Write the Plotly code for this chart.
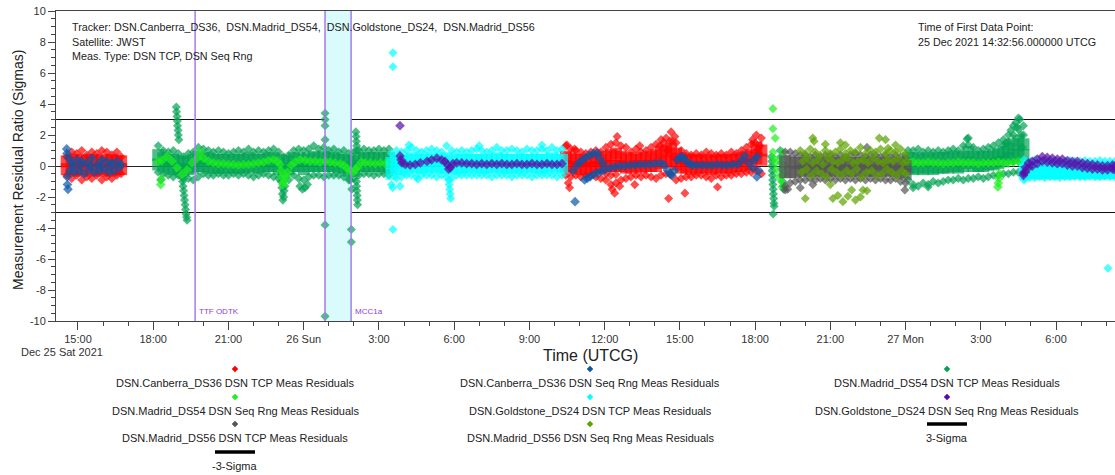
import pandas as pd
import plotly.graph_objects as go

W, H = 1115, 475
T0 = pd.Timestamp("2021-12-25 00:00:00")   # time values below are hours since this instant

# ---------------- data (hours since 25 Dec 2021 00:00 UTCG, residual ratio in sigmas) ----------------
# DSN.Canberra_DS36 DSN TCP
RED_A_T = [14.55, 14.75, 14.95, 15.15, 15.35, 15.55, 15.75, 15.95, 16.15, 16.35, 16.55, 16.72]
RED_A_HI = [0.6, 0.9, 0.8, 1.0, 0.7, 0.9, 0.8, 1.0, 0.9, 0.7, 0.9, 0.6]
RED_A_M1 = [0.3, 0.4, 0.3, 0.4, 0.3, 0.4, 0.3, 0.4, 0.3, 0.4, 0.3, 0.3]
RED_A_M2 = [-0.2, -0.3, -0.2, -0.3, -0.2, -0.3, -0.2, -0.3, -0.2, -0.3, -0.2, -0.2]
RED_A_LO = [-0.6, -0.8, -0.6, -0.9, -0.7, -0.8, -0.6, -0.9, -0.7, -0.8, -0.6, -0.5]
RED_B_T = [34.45, 34.65, 34.85, 35.05, 35.25, 35.45, 35.65, 35.85, 36.05, 36.25, 36.45, 36.65, 36.85, 37.05,
           37.25, 37.45, 37.65, 37.85, 38.05, 38.25, 38.45, 38.65, 38.85, 39.05, 39.25, 39.45, 39.65, 39.85,
           40.05, 40.25, 40.45, 40.65, 40.85, 41.05, 41.25, 41.45, 41.65, 41.85, 42.05, 42.25]
RED_B_HI = [1.3, 1.1, 1.0, 0.9, 0.8, 0.9, 1.0, 0.9, 1.2, 1.4, 1.5, 1.3, 1.2, 0.9, 1.1, 0.9, 1.0, 1.2, 1.4, 1.7,
            1.8, 2.2, 1.5, 1.0, 0.8, 0.7, 0.8, 0.7, 0.9, 0.8, 0.7, 0.8, 0.7, 0.9, 0.8, 1.0, 1.2, 1.4, 2.0, 1.8]
RED_B_M1 = [0.6, 0.5, 0.4, 0.4, 0.3, 0.4, 0.5, 0.4, 0.6, 0.7, 0.8, 0.6, 0.5, 0.4, 0.5, 0.4, 0.5, 0.6, 0.7, 0.9,
            1.0, 1.1, 0.8, 0.5, 0.4, 0.3, 0.4, 0.3, 0.4, 0.3, 0.3, 0.4, 0.3, 0.4, 0.4, 0.5, 0.6, 0.7, 1.2, 1.0]
RED_B_M2 = [0.0, -0.1, -0.1, -0.2, -0.2, -0.1, -0.1, -0.1, 0.0, 0.0, 0.0, 0.0, -0.1, -0.1, 0.0, -0.1, 0.0, 0.0,
            0.0, 0.2, 0.3, 0.3, 0.1, -0.1, -0.1, -0.2, -0.1, -0.1, -0.1, -0.2, -0.1, -0.1, -0.1, -0.1, 0.0, 0.0,
            0.1, 0.1, 0.5, 0.4]
RED_B_LO = [-0.6, -0.7, -0.6, -0.7, -0.6, -0.6, -0.7, -0.8, -0.9, -1.2, -1.1, -0.9, -0.8, -0.7, -0.6, -0.7, -0.6,
            -0.7, -0.8, -0.6, -0.5, -0.6, -0.9, -0.8, -0.7, -0.7, -0.6, -0.6, -0.7, -0.8, -0.6, -0.7, -0.6, -0.6,
            -0.5, -0.5, -0.4, -0.4, -0.3, -0.5]
RED_B_EX_T = [34.5, 34.55, 34.6, 34.8, 36.05, 36.25, 36.3, 36.4, 36.45, 36.5, 36.6, 37.2, 37.4, 38.2, 38.35,
              38.55, 38.6, 38.7, 38.8, 39.2, 40.5, 41.9, 42.0, 42.1, 42.2, 42.15, 38.5, 38.75]
RED_B_EX_V = [1.35, -1.1, -1.4, 1.1, -0.5, -0.6, -1.5, -1.75, -0.55, 1.9, -1.3, -1.2, 1.3, 1.3, 1.5,
              -2.1, 1.6, 1.6, 1.9, -1.75, -1.35, 1.7, 1.5, 1.1, 1.3, 0.8, 1.0, 0.6]

# DSN.Canberra_DS36 DSN Seq Rng
BLUE_A_T = [14.55, 14.56, 14.57, 14.58, 14.6, 14.63, 14.67, 14.75, 14.85, 14.95, 15.05, 15.15, 15.25, 15.35,
            15.45, 15.55, 15.65, 15.75, 15.85, 15.95, 16.05, 16.15, 16.25, 16.35, 16.45, 16.55, 16.65, 16.72,
            14.8, 15.1, 15.5, 15.9, 16.3]
BLUE_A_V = [1.1, 0.8, -0.7, -1.2, -1.5, 0.5, -0.3, 0.2, -0.4, 0.4, -0.3, 0.3, -0.5, 0.2, -0.2, 0.5, -0.4, 0.1,
            -0.3, 0.4, -0.2, 0.3, -0.4, 0.2, -0.3, 0.3, -0.1, 0.1, 0.0, 0.0, 0.0, 0.0, 0.0]
BLUE_B_T = [34.74, 34.82, 34.9, 35.0, 35.13, 35.25, 35.4, 35.55, 35.7, 35.8, 35.94, 35.2, 35.3, 35.42, 35.55,
            35.7, 35.85, 36.0, 36.2, 36.4, 36.6, 36.8, 37.0, 37.2, 37.4, 37.6, 37.8, 38.0, 38.2, 38.35, 38.5,
            38.6, 38.68, 38.78, 38.9, 39.0, 39.08, 39.18, 39.28, 39.4, 39.52, 39.7, 39.9, 40.1, 40.3, 40.5,
            40.7, 40.9, 41.1, 41.3, 41.47, 41.6, 41.75, 41.9, 41.98, 42.07, 42.07, 42.15]
BLUE_B_V = [-0.3, -2.3, 0.05, 0.25, 0.4, 0.55, 0.7, 0.8, 0.85, 0.5, 0.15, -0.9, -0.8, -0.7, -0.55, -0.45,
            -0.35, -0.25, -0.13, -0.05, 0.0, 0.0, 0.05, 0.05, 0.1, 0.1, 0.1, 0.15, 0.2, 0.1, -0.26, -0.5, -0.6,
            -0.3, 0.4, 0.55, 0.6, 0.45, 0.26, 0.12, 0.06, 0.05, 0.05, 0.05, 0.05, 0.1, 0.05, 0.05, 0.1, 0.1,
            0.4, 0.65, 0.2, -0.13, 0.4, 0.6, -0.7, -0.3]

# DSN.Madrid_DS54 DSN TCP
G1_T = [18.2, 18.4, 18.6, 18.8, 19.0, 19.2, 19.4, 19.6, 19.8, 20.0, 20.2, 20.4, 20.6, 20.8, 21.0, 21.2, 21.4,
        21.6, 21.8, 22.0, 22.2, 22.4, 22.6, 22.8, 23.0, 23.2, 23.4, 23.6, 23.8, 24.0, 24.2, 24.4, 24.6, 24.8,
        25.0, 25.2, 25.4, 25.6, 25.8, 26.0, 26.2, 26.4, 26.6, 26.8, 27.0, 27.2, 27.4]
G1_HI = [1.3, 1.0, 0.9, 1.0, 0.8, 0.6, 0.8, 0.9, 1.2, 1.1, 1.0, 0.9, 1.0, 0.9, 0.8, 0.9, 1.0, 0.9, 1.1, 0.9,
         1.0, 0.9, 1.0, 1.1, 0.9, 0.6, 0.7, 1.0, 1.1, 1.0, 1.1, 1.3, 1.1, 1.2, 1.0, 1.1, 0.9, 1.0, 0.8, 0.9,
         1.0, 1.1, 1.0, 1.0, 1.1, 1.0, 1.1]
G1_M1 = [0.7, 0.5, 0.4, 0.4, 0.3, 0.2, 0.3, 0.4, 0.6, 0.5, 0.5, 0.4, 0.4, 0.4, 0.3, 0.4, 0.4, 0.4, 0.5, 0.4,
         0.4, 0.4, 0.5, 0.5, 0.4, 0.1, 0.3, 0.5, 0.5, 0.4, 0.5, 0.6, 0.5, 0.6, 0.5, 0.5, 0.4, 0.4, 0.3, 0.3,
         0.5, 0.5, 0.5, 0.5, 0.5, 0.5, 0.5]
G1_M2 = [0.1, 0.0, -0.1, -0.2, -0.2, -0.3, -0.2, -0.1, 0.0, 0.0, -0.1, -0.1, -0.1, -0.1, -0.1, -0.1, -0.1,
         -0.1, 0.0, -0.1, -0.1, 0.0, 0.0, 0.0, -0.2, -0.4, -0.2, 0.0, 0.0, -0.2, 0.0, 0.0, 0.0, 0.0, 0.0, 0.0,
         -0.1, -0.1, -0.3, -0.3, 0.0, 0.0, 0.0, 0.0, 0.0, 0.0, -0.1]
G1_LO = [-0.4, -0.5, -0.6, -0.7, -0.6, -0.8, -0.8, -0.9, -0.7, -0.5, -0.6, -0.6, -0.5, -0.6, -0.6, -0.5, -0.6,
         -0.5, -0.6, -0.7, -0.6, -0.5, -0.6, -0.7, -0.8, -0.9, -0.9, -0.6, -0.8, -0.9, -0.7, -0.6, -0.6, -0.7,
         -0.6, -0.6, -0.6, -0.7, -0.9, -0.8, -0.6, -0.5, -0.5, -0.6, -0.5, -0.5, -0.6]
G1_EX_T = [18.92, 18.93, 18.95, 18.96, 18.97, 18.99, 19.0, 19.02, 19.15, 19.17, 19.19, 19.21, 19.23, 19.25,
           19.27, 19.29, 19.31, 19.33, 19.35, 18.3, 23.1, 23.13, 23.15, 23.17, 23.2, 23.22, 23.25, 23.85, 23.95,
           24.05, 24.15, 24.85, 24.85, 24.85, 24.85, 24.85, 24.85, 25.9, 25.9, 26.08, 26.09, 26.1, 26.11, 26.12,
           26.1, 26.11, 26.12, 26.13, 26.14, 26.15, 25.85, 25.92]
G1_EX_V = [3.8, 3.5, 3.2, 2.9, 2.6, 2.3, 2.0, 1.7, -0.7, -1.0, -1.3, -1.6, -1.9, -2.2, -2.5, -2.8, -3.1, -3.3,
           -3.5, -0.9, -1.0, -1.4, -1.8, -2.2, -2.0, -1.6, -1.3, -1.3, -1.5, -1.4, -1.2, 3.4, 3.0, 2.6, 1.7,
           -3.8, -9.7, -4.1, -4.9, 2.2, 1.9, 1.6, 1.3, 1.0, -1.0, -1.3, -1.6, -1.9, -2.2, -2.5, -0.9, -1.5]
G2_T = [42.65, 42.66, 42.67, 42.68, 42.69, 42.7, 42.71, 42.72, 42.73, 42.74, 42.75, 42.76, 42.72, 43.0, 43.02,
        43.04, 43.06, 43.08, 43.1, 43.12, 43.14]
G2_V = [0.6, 0.3, 0.0, -0.3, -0.6, -0.9, -1.2, -1.5, -1.8, -2.1, -2.4, -2.6, -3.1, 1.0, 0.6, 0.2, -0.2, -0.6,
        -1.0, -1.3, -1.5]
G3_T = [48.1, 48.3, 48.5, 48.7, 48.9, 49.1, 49.3, 49.5, 49.7, 49.9, 50.1, 50.3, 50.5, 50.7, 50.9, 51.1, 51.3,
        51.5, 51.7, 51.9, 52.1, 52.3, 52.5, 52.7]
G3_HI = [1.0, 1.0, 1.1, 0.9, 1.0, 0.9, 1.0, 0.9, 1.0, 1.1, 1.0, 1.3, 1.8, 1.2, 1.0, 1.1, 1.2, 1.3, 1.5, 1.7,
         2.0, 2.6, 3.1, 2.6]
G3_M1 = [0.5, 0.5, 0.5, 0.4, 0.5, 0.4, 0.5, 0.5, 0.5, 0.6, 0.5, 0.6, 0.9, 0.6, 0.5, 0.6, 0.6, 0.7, 0.8, 0.9,
         1.1, 1.4, 1.6, 1.4]
G3_M2 = [-0.1, -0.2, -0.1, -0.2, -0.1, -0.2, -0.1, -0.1, -0.1, 0.0, -0.1, 0.0, 0.2, 0.0, 0.0, 0.0, 0.1, 0.1,
         0.2, 0.3, 0.5, 0.7, 0.8, 0.7]
G3_LO = [-0.9, -1.2, -1.3, -1.1, -1.2, -1.0, -1.1, -1.0, -0.9, -0.9, -0.8, -0.9, -0.8, -0.8, -0.7, -0.8, -0.7,
         -0.6, -0.6, -0.5, -0.5, -0.4, -0.4, -0.3]
G3_EX_T = [51.9, 52.0, 52.1, 52.2, 52.3, 52.4, 52.45, 52.5, 52.55, 52.6, 52.65, 52.7, 50.45, 50.5, 52.3, 52.5,
           48.3, 48.9]
G3_EX_V = [1.3, 1.5, 1.55, 2.3, 2.0, 2.8, 2.5, 2.35, 3.0, 2.0, 1.2, 2.0, 1.75, 1.35, 0.3, 0.3, -1.4, -1.35]

# DSN.Madrid_DS54 DSN Seq Rng
L1_T = [18.2, 18.35, 18.55, 18.75, 18.95, 19.15, 19.35, 19.55, 19.75, 19.87, 20.0, 20.2, 20.4, 20.6, 20.8,
        21.0, 21.2, 21.4, 21.6, 21.8, 22.0, 22.2, 22.4, 22.6, 22.8, 22.95, 23.05, 23.1, 23.13, 23.17, 23.22,
        23.28, 23.35, 23.5, 23.65, 23.85, 24.05, 24.25, 24.45, 24.65, 24.85, 25.05, 25.25, 25.45, 25.6, 25.73,
        25.85, 25.97, 26.07, 26.16, 26.3, 26.45, 26.65, 26.85, 27.05, 27.25, 27.4, 18.3, 18.32]
L1_V = [0.3, 0.35, 0.6, 0.3, -0.1, -0.55, -0.25, 0.2, 0.5, 0.9, 0.5, 0.3, 0.2, 0.15, 0.15, 0.1, 0.1, 0.05,
        0.1, 0.1, 0.15, 0.2, 0.25, 0.35, 0.4, 0.3, 0.1, -0.3, -0.7, -1.2, -1.0, -0.7, -0.4, 0.05, 0.25, 0.4,
        0.35, 0.3, 0.3, 0.25, 0.3, 0.25, 0.2, 0.15, 0.05, -0.15, -0.3, -0.4, -0.2, -0.05, 0.25, 0.2, 0.2, 0.15,
        0.2, 0.15, 0.2, -1.2, -0.85]
L2_T = [42.71, 42.71, 42.8, 42.71, 42.75, 42.8, 42.85, 42.95, 43.05, 43.0, 43.08, 43.1, 43.15, 43.2]
L2_V = [3.7, 2.4, 1.8, 0.9, 0.5, 0.2, -0.25, -0.7, -1.0, 0.4, -1.35, 0.9, -0.5, 0.0]
L3_T = [48.1, 48.3, 48.5, 48.7, 48.9, 49.1, 49.3, 49.5, 49.7, 49.9, 50.1, 50.3, 50.5, 50.7, 50.9, 51.1, 51.3,
        51.5, 51.7, 51.9, 52.1, 52.3, 52.5, 52.7, 51.68, 51.7, 51.72, 51.75]
L3_V = [0.3, 0.25, 0.2, 0.2, 0.25, 0.2, 0.2, 0.15, 0.2, 0.2, 0.25, 0.2, 0.2, 0.2, 0.15, 0.2, 0.2, 0.2, 0.25,
        0.2, 0.2, 0.25, 0.3, 0.25, -1.35, -1.1, -0.8, -0.5]

# DSN.Goldstone_DS24 DSN TCP
C1_T = [27.5, 27.7, 27.9, 28.1, 28.3, 28.5, 28.7, 28.9, 29.1, 29.3, 29.5, 29.7, 29.9, 30.1, 30.3, 30.5, 30.7,
        30.9, 31.1, 31.3, 31.5, 31.7, 31.9, 32.1, 32.3, 32.5, 32.7, 32.9, 33.1, 33.3, 33.5, 33.7, 33.9, 34.1, 34.3]
C1_HI = [0.8, 1.0, 0.9, 1.0, 1.2, 1.0, 0.9, 1.0, 1.1, 1.0, 0.9, 1.3, 1.0, 0.9, 1.0, 0.9, 1.0, 1.1, 1.0, 0.9,
         1.0, 1.2, 1.0, 1.0, 1.1, 1.0, 0.9, 1.1, 1.0, 1.0, 1.1, 1.0, 1.2, 1.0, 1.1]
C1_M1 = [0.2, 0.4, 0.3, 0.4, 0.5, 0.4, 0.4, 0.4, 0.5, 0.4, 0.4, 0.5, 0.3, 0.4, 0.4, 0.4, 0.4, 0.4, 0.4, 0.4,
         0.4, 0.5, 0.4, 0.4, 0.4, 0.4, 0.4, 0.4, 0.4, 0.4, 0.4, 0.4, 0.5, 0.4, 0.4]
C1_M2 = [-0.5, -0.2, -0.2, -0.1, 0.0, -0.1, -0.1, -0.1, 0.0, -0.1, -0.1, -0.1, -0.2, -0.1, -0.1, -0.1, 0.0,
         -0.1, -0.1, -0.1, -0.1, 0.0, -0.1, -0.1, -0.1, -0.1, -0.1, 0.0, -0.1, -0.1, -0.1, -0.1, 0.0, -0.1, -0.1]
C1_LO = [-1.2, -0.8, -0.7, -0.6, -0.6, -0.7, -0.6, -0.6, -0.6, -0.7, -0.6, -0.7, -0.8, -0.6, -0.6, -0.6, -0.6,
         -0.6, -0.6, -0.6, -0.7, -0.6, -0.6, -0.6, -0.7, -0.6, -0.6, -0.6, -0.7, -0.6, -0.6, -0.6, -0.6, -0.7, -0.6]
C1_EX_T = [27.56, 27.56, 27.56, 27.55, 27.84, 28.55, 29.78, 29.8, 29.82, 29.84, 29.86, 28.2, 31.0, 33.5]
C1_EX_V = [7.3, 6.4, -4.1, -1.4, -1.3, -0.85, -0.9, -1.2, -1.5, -1.8, -2.1, 1.35, 1.3, 1.35]
C2_T = [52.75, 52.95, 53.15, 53.35, 53.55, 53.75, 53.95, 54.15, 54.35, 54.55, 54.75, 54.95, 55.15, 55.35,
        55.55, 55.75, 55.95, 56.15, 56.35]
C2_HI = [0.1, 0.3, 0.4, 0.3, 0.3, 0.3, 0.35, 0.3, 0.3, 0.35, 0.3, 0.3, 0.35, 0.3, 0.3, 0.35, 0.3, 0.3, 0.3]
C2_M1 = [-0.2, -0.1, -0.05, -0.1, -0.1, -0.1, -0.1, -0.1, -0.1, -0.1, -0.1, -0.1, -0.1, -0.1, -0.1, -0.1,
         -0.1, -0.1, -0.1]
C2_M2 = [-0.5, -0.45, -0.45, -0.5, -0.45, -0.45, -0.5, -0.45, -0.45, -0.5, -0.45, -0.45, -0.5, -0.45, -0.45,
         -0.5, -0.45, -0.45, -0.45]
C2_LO = [-0.8, -0.75, -0.75, -0.7, -0.75, -0.7, -0.7, -0.75, -0.7, -0.7, -0.65, -0.7, -0.7, -0.65, -0.7,
         -0.7, -0.65, -0.7, -0.7]
C2_EX_T = [52.72, 52.72, 56.07]
C2_EX_V = [-0.9, 0.4, -6.6]

# DSN.Goldstone_DS24 DSN Seq Rng
P1_T = [27.84, 27.88, 27.92, 28.05, 28.24, 28.45, 28.65, 28.92, 29.1, 29.31, 29.5, 29.63, 29.72, 29.78, 29.85,
        29.95, 30.1, 30.3, 30.5, 30.7, 30.9, 31.1, 31.3, 31.5, 31.7, 31.9, 32.1, 32.3, 32.5, 32.7, 32.9, 33.1,
        33.3, 33.5, 33.7, 33.9, 34.1, 34.3, 27.84]
P1_V = [0.65, 0.4, 0.2, 0.1, 0.06, 0.1, 0.2, 0.3, 0.4, 0.5, 0.4, 0.3, 0.1, -0.2, -0.1, 0.15, 0.2, 0.2, 0.15,
        0.15, 0.1, 0.15, 0.1, 0.15, 0.1, 0.15, 0.1, 0.1, 0.15, 0.1, 0.1, 0.15, 0.1, 0.1, 0.15, 0.1, 0.1, 0.15, 2.6]
P2_T = [52.7, 52.78, 52.9, 53.05, 53.25, 53.45, 53.65, 53.85, 54.05, 54.25, 54.45, 54.65, 54.85, 55.05, 55.25,
        55.45, 55.65, 55.85, 56.05, 56.25, 56.35]
P2_V = [-0.45, -0.1, 0.2, 0.3, 0.45, 0.6, 0.55, 0.5, 0.45, 0.45, 0.35, 0.3, 0.3, 0.2, 0.15, 0.1, 0.05, 0.0,
        0.0, 0.05, 0.0]
P2_LO = [-0.6, -0.4, -0.1, 0.0, 0.15, 0.3, 0.25, 0.2, 0.15, 0.15, 0.05, 0.0, 0.0, -0.1, -0.15, -0.2, -0.2,
         -0.25, -0.25, -0.2, -0.25]

# DSN.Madrid_DS56 DSN TCP
GR_T = [43.2, 43.4, 43.6, 43.8, 44.0, 44.2, 44.4, 44.6, 44.8, 45.0, 45.2, 45.4, 45.6, 45.8, 46.0, 46.2, 46.4,
        46.6, 46.8, 47.0, 47.2, 47.4, 47.6, 47.8, 48.0]
GR_HI = [0.9, 0.9, 0.8, 0.7, 0.7, 0.6, 0.7, 0.6, 0.7, 0.7, 0.6, 0.7, 0.6, 0.7, 0.8, 0.7, 0.6, 0.7, 0.7, 0.6,
         0.7, 0.6, 0.7, 0.6, 0.5]
GR_M1 = [0.3, 0.3, 0.2, 0.2, 0.2, 0.1, 0.2, 0.1, 0.2, 0.2, 0.1, 0.2, 0.1, 0.2, 0.2, 0.2, 0.1, 0.2, 0.2, 0.1,
         0.2, 0.1, 0.2, 0.1, 0.0]
GR_M2 = [-0.4, -0.4, -0.4, -0.3, -0.3, -0.3, -0.3, -0.3, -0.3, -0.3, -0.3, -0.3, -0.3, -0.3, -0.3, -0.3, -0.3,
         -0.3, -0.3, -0.3, -0.3, -0.3, -0.3, -0.4, -0.5]
GR_LO = [-1.3, -1.1, -1.0, -0.9, -0.9, -0.8, -0.9, -0.8, -0.9, -0.8, -0.9, -0.8, -0.9, -0.8, -0.9, -0.8, -0.9,
         -0.8, -0.9, -0.8, -0.9, -0.9, -0.8, -1.0, -1.1]
GR_EX_T = [43.2, 43.3, 43.8, 44.3, 46.46, 47.97]
GR_EX_V = [-1.55, -1.5, -1.4, -1.2, 1.2, -1.55]

# DSN.Madrid_DS56 DSN Seq Rng
OL_T1 = [43.8, 44.0, 44.2, 44.4, 44.6, 44.8, 45.0, 45.2, 45.4, 45.6, 45.8, 46.0, 46.2, 46.4, 46.6, 46.8, 47.0,
         47.2, 47.4, 47.6, 47.8, 48.0]
OL_V1 = [1.0, 0.8, 1.1, 0.9, 0.7, 1.0, 0.8, 0.9, 1.1, 0.8, 1.0, 0.9, 1.2, 0.8, 1.0, 0.9, 1.1, 0.8, 1.0, 0.9,
         1.1, 0.8]
OL_T2 = [43.9, 44.1, 44.3, 44.5, 44.7, 44.9, 45.1, 45.3, 45.5, 45.7, 45.9, 46.1, 46.3, 46.5, 46.7, 46.9, 47.1,
         47.3, 47.5, 47.7, 47.9, 48.05]
OL_V2 = [0.3, 0.5, 0.2, 0.4, 0.1, 0.5, 0.3, 0.2, 0.4, 0.5, 0.2, 0.3, 0.4, 0.2, 0.5, 0.3, 0.2, 0.4, 0.3, 0.5,
         0.2, 0.3]
OL_T3 = [43.85, 44.05, 44.25, 44.45, 44.65, 44.85, 45.05, 45.25, 45.45, 45.65, 45.85, 46.05, 46.25, 46.45,
         46.65, 46.85, 47.05, 47.25, 47.45, 47.65, 47.85, 48.0]
OL_V3 = [-0.4, -0.2, -0.6, -0.3, -0.5, -0.7, -0.2, -0.4, -0.6, -0.3, -0.5, -0.2, -0.7, -0.4, -0.3, -0.6, -0.5,
         -0.2, -0.4, -0.6, -0.3, -0.5]
OL_EX_T = [44.0, 44.3, 44.35, 45.1, 45.3, 45.4, 45.5, 45.6, 45.7, 45.85, 46.0, 46.2, 46.3, 46.46, 46.95, 47.2,
           47.3, 47.6, 45.0, 44.8]
OL_EX_V = [-2.1, 1.8, 1.6, -2.1, -1.9, 1.5, -2.3, 1.35, -1.95, -1.55, -2.2, -2.0, -1.55, -1.6, 1.8, 1.7, 1.15,
           1.35, -1.2, 1.4]

SIGMA_LEVELS = [3, -3]
SIGMA_NAMES = ["3-Sigma", "-3-Sigma"]
EVENT_LINE_H = [19.67]
EVENT_LINE_LABEL = ["TTF ODTK"]
EVENT_BAND_H = [24.85, 25.89]
EVENT_BAND_LABEL = "MCC1a"

TICK_H = [15, 18, 21, 24, 27, 30, 33, 36, 39, 42, 45, 48, 51, 54]
TICK_TEXT = ["15:00", "18:00", "21:00", "26 Sun", "3:00", "6:00", "9:00", "12:00", "15:00", "18:00", "21:00",
             "27 Mon", "3:00", "6:00"]
Y_TICKS = [-10, -8, -6, -4, -2, 0, 2, 4, 6, 8, 10]
X_RANGE_H = [14.123, 56.35]


# ---------------- helpers ----------------
def to_time(hours):
    return [T0 + pd.Timedelta(hours=h) for h in hours]


def band(t, hi, inner, lo):
    """points of a dense residual band: outer rows as diamonds, inner rows as filler"""
    out = [(h, v, "pt") for h, v in zip(t, hi)] + [(h, v, "pt") for h, v in zip(t, lo)]
    for r in inner:
        out += [(h, v, "fill") for h, v in zip(t, r)]
    return out


def pts(t, v, kind="pt"):
    return [(h, y, kind) for h, y in zip(t, v)]


STYLE = {"pt": ("diamond", 7), "fill": ("square", 12), "track": ("diamond", 7.5)}

SERIES = [
    ("DSN.Canberra_DS36 DSN TCP Meas Residuals", "#ff0000",
     band(RED_A_T, RED_A_HI, [RED_A_M1, RED_A_M2], RED_A_LO) +
     band(RED_B_T, RED_B_HI, [RED_B_M1, RED_B_M2], RED_B_LO) + pts(RED_B_EX_T, RED_B_EX_V)),
    ("DSN.Canberra_DS36 DSN Seq Rng Meas Residuals", "#0a56a8",
     pts(BLUE_A_T, BLUE_A_V, "track") + pts(BLUE_B_T, BLUE_B_V, "track")),
    ("DSN.Madrid_DS54 DSN TCP Meas Residuals", "#00a352",
     band(G1_T, G1_HI, [G1_M1, G1_M2], G1_LO) + pts(G1_EX_T, G1_EX_V) + pts(G2_T, G2_V) +
     band(G3_T, G3_HI, [G3_M1, G3_M2], G3_LO) + pts(G3_EX_T, G3_EX_V)),
    ("DSN.Madrid_DS54 DSN Seq Rng Meas Residuals", "#1ef01e",
     pts(L1_T, L1_V, "track") + pts(L2_T, L2_V) + pts(L3_T, L3_V, "track")),
    ("DSN.Goldstone_DS24 DSN TCP Meas Residuals", "#00ffff",
     band(C1_T, C1_HI, [C1_M1, C1_M2], C1_LO) + pts(C1_EX_T, C1_EX_V) +
     band(C2_T, C2_HI, [C2_M1, C2_M2], C2_LO) + pts(C2_EX_T, C2_EX_V)),
    ("DSN.Goldstone_DS24 DSN Seq Rng Meas Residuals", "#5a0ca8",
     pts(P1_T, P1_V, "track") + pts(P2_T, P2_V, "track") + pts(P2_T, P2_LO, "track")),
    ("DSN.Madrid_DS56 DSN TCP Meas Residuals", "#555555",
     band(GR_T, GR_HI, [GR_M1, GR_M2], GR_LO) + pts(GR_EX_T, GR_EX_V)),
    ("DSN.Madrid_DS56 DSN Seq Rng Meas Residuals", "#5ca300",
     pts(OL_T1, OL_V1) + pts(OL_T2, OL_V2) + pts(OL_T3, OL_V3) + pts(OL_EX_T, OL_EX_V)),
]

FONT = "Liberation Sans, Arial, sans-serif"
TXT = "#222222"

fig = go.Figure()
for name, color, points in SERIES:
    points = sorted(points, key=lambda p: 0 if p[2] == "fill" else 1)
    fig.add_trace(go.Scatter(
        x=to_time([p[0] for p in points]), y=[p[1] for p in points], mode="markers", name=name,
        showlegend=False, hoverinfo="skip",
        marker=dict(symbol=[STYLE[p[2]][0] for p in points], size=[STYLE[p[2]][1] for p in points],
                    color=color, line=dict(width=0))))

# ----- manual legend (3 columns, row-major) drawn on a pixel-space overlay axis -----
LEG_COL_X = [235, 590, 947]
LEG_ROW_MARK_Y = [369, 397, 424, 452]
LEG_TEXT_DY = 14
legend_entries = [(n, c, "marker") for n, c, _ in SERIES] + [(SIGMA_NAMES[0], "#000000", "line"),
                                                              (SIGMA_NAMES[1], "#000000", "line")]
annotations = []
shapes = []
mk_x, mk_y, mk_c = [], [], []
for i, (name, color, kind) in enumerate(legend_entries):
    cx = LEG_COL_X[i % 3]
    ry = LEG_ROW_MARK_Y[i // 3]
    if kind == "marker":
        mk_x.append(cx); mk_y.append(ry); mk_c.append(color)
    else:
        shapes.append(dict(type="line", xref="x2", yref="y2", x0=cx - 20, x1=cx + 20, y0=ry, y1=ry,
                           line=dict(color=color, width=3.5)))
    annotations.append(dict(xref="x2", yref="y2", x=cx, y=ry + LEG_TEXT_DY, text=name, showarrow=False,
                            xanchor="center", yanchor="middle", font=dict(family=FONT, size=11, color=TXT)))
fig.add_trace(go.Scatter(x=mk_x, y=mk_y, xaxis="x2", yaxis="y2", mode="markers", showlegend=False,
                         hoverinfo="skip", marker=dict(symbol="diamond", size=5, color=mk_c, line=dict(width=0))))

# ----- sigma lines -----
for lvl in SIGMA_LEVELS:
    shapes.append(dict(type="line", xref="x domain", yref="y", x0=0, x1=1, y0=lvl, y1=lvl,
                       line=dict(color="#111111", width=1.2), layer="below"))

# ----- events -----
band_t = to_time(EVENT_BAND_H)
shapes.append(dict(type="rect", xref="x", yref="y domain", x0=band_t[0], x1=band_t[1], y0=0, y1=1,
                   fillcolor="#d9fbfb", line=dict(width=0), layer="below"))
ev_color = "#a57ce8"
for t in to_time(EVENT_LINE_H) + band_t:
    shapes.append(dict(type="line", xref="x", yref="y domain", x0=t, x1=t, y0=0, y1=1,
                       line=dict(color=ev_color, width=1.5), layer="above"))
for t, lab in list(zip(to_time(EVENT_LINE_H), EVENT_LINE_LABEL)) + [(band_t[1], EVENT_BAND_LABEL)]:
    annotations.append(dict(xref="x", yref="y2", x=t, y=311, text=lab, showarrow=False, xanchor="left",
                            yanchor="middle", xshift=2, font=dict(family=FONT, size=8, color="#8a3fd8")))

# ----- info text -----
sp = "\u00a0 "
info_left = ["Tracker: DSN.Canberra_DS36," + sp + "DSN.Madrid_DS54," + sp + "DSN.Goldstone_DS24," + sp +
             "DSN.Madrid_DS56", "Satellite: JWST", "Meas. Type: DSN TCP, DSN Seq Rng"]
for k, line in enumerate(info_left):
    annotations.append(dict(xref="x2", yref="y2", x=70, y=27 + 14.5 * k, text=line, showarrow=False,
                            xanchor="left", yanchor="middle", font=dict(family=FONT, size=10.75, color=TXT)))
info_right = ["Time of First Data Point:", "25 Dec 2021 14:32:56.000000 UTCG"]
for k, line in enumerate(info_right):
    annotations.append(dict(xref="x2", yref="y2", x=916, y=27 + 15 * k, text=line, showarrow=False,
                            xanchor="left", yanchor="middle", font=dict(family=FONT, size=10.75, color=TXT)))

# axis titles and date headline
annotations.append(dict(xref="x2", yref="y2", x=62, y=352, text="Dec 25 Sat 2021", showarrow=False,
                        xanchor="center", yanchor="middle", font=dict(family=FONT, size=11, color="#333333")))
annotations.append(dict(xref="x2", yref="y2", x=590, y=355, text="Time (UTCG)", showarrow=False,
                        xanchor="center", yanchor="middle", font=dict(family=FONT, size=16, color=TXT)))
annotations.append(dict(xref="x2", yref="y2", x=18, y=170, text="Measurement Residual Ratio (Sigmas)",
                        showarrow=False, textangle=-90, xanchor="center", yanchor="middle",
                        font=dict(family=FONT, size=14, color=TXT)))

AX = "#444444"
fig.update_layout(
    width=W, height=H, margin=dict(l=0, r=0, t=0, b=0, autoexpand=False),
    paper_bgcolor="white", plot_bgcolor="rgba(0,0,0,0)",
    font=dict(family=FONT, size=11, color="#333333"),
    showlegend=False,
    xaxis=dict(type="date", domain=[56 / W, 1], anchor="y", range=to_time(X_RANGE_H), automargin=False,
               tickmode="array", tickvals=to_time(TICK_H), ticktext=TICK_TEXT,
               ticks="outside", ticklen=8, tickcolor=AX, showgrid=False, showline=True, linecolor=AX,
               linewidth=1, mirror=True, tickfont=dict(family=FONT, size=11, color="#333333"),
               minor=dict(dtick=3600000, tick0="2021-12-25 00:00", ticks="outside", ticklen=4, tickcolor=AX,
                          showgrid=False)),
    yaxis=dict(domain=[(H - 321) / H, (H - 11) / H], anchor="x", range=[-10, 10], automargin=False,
               tickmode="array", tickvals=Y_TICKS, ticktext=[str(v) for v in Y_TICKS],
               ticks="outside", ticklen=7, tickcolor=AX, showgrid=False, showline=True, linecolor=AX,
               linewidth=1, zeroline=True, zerolinecolor="#222222", zerolinewidth=1,
               tickfont=dict(family=FONT, size=11, color="#333333"),
               minor=dict(dtick=0.5, tick0=0, ticks="outside", ticklen=4, tickcolor=AX, showgrid=False)),
    xaxis2=dict(domain=[0, 1], anchor="y2", range=[0, W], visible=False, fixedrange=True),
    yaxis2=dict(domain=[0, 1], anchor="x2", range=[H, 0], visible=False, fixedrange=True),
    shapes=shapes, annotations=annotations,
)

fig.write_html("out.html")
